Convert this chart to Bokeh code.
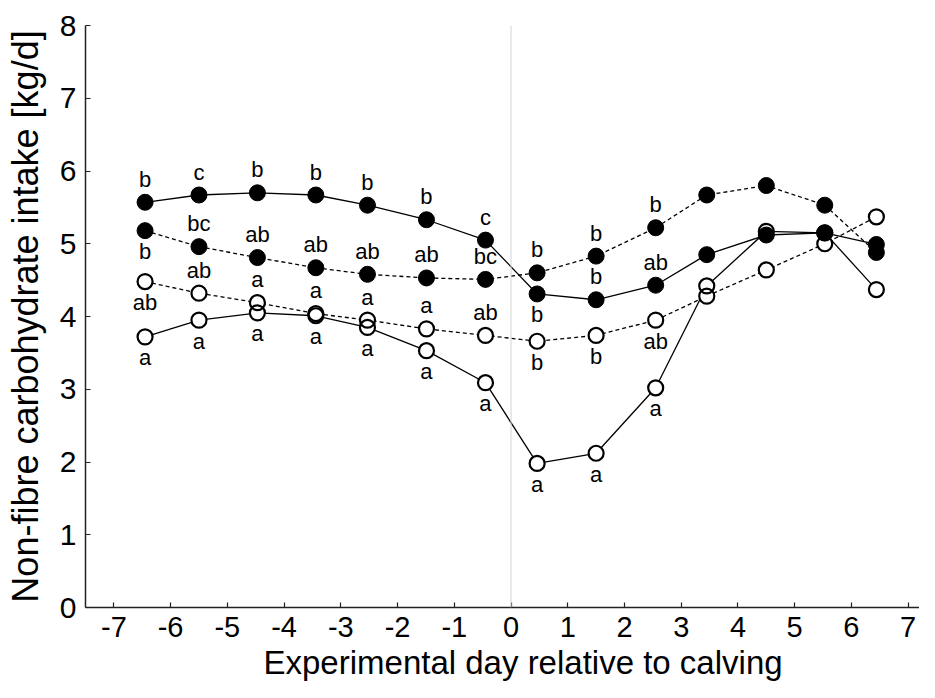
from bokeh.plotting import figure
from bokeh.models import ColumnDataSource, FixedTicker, Span, Range1d, Title
from bokeh.core.properties import value
from bokeh.embed import file_html
from bokeh.resources import INLINE

# ---- data ----
days = [-6.45, -5.5, -4.47, -3.44, -2.53, -1.49, -0.45, 0.46, 1.5, 2.55, 3.45, 4.5, 5.53, 6.44]

filled_solid = [5.57, 5.67, 5.70, 5.67, 5.53, 5.33, 5.05, 4.31, 4.23, 4.43, 4.85, 5.12, 5.15, 4.99]
filled_dashed = [5.18, 4.96, 4.81, 4.67, 4.58, 4.53, 4.51, 4.60, 4.83, 5.22, 5.67, 5.80, 5.53, 4.88]
open_dashed = [4.48, 4.32, 4.19, 4.04, 3.95, 3.83, 3.74, 3.66, 3.74, 3.95, 4.28, 4.64, 5.00, 5.37]
open_solid = [3.72, 3.95, 4.05, 4.01, 3.85, 3.53, 3.09, 1.98, 2.12, 3.02, 4.42, 5.17, 5.15, 4.37]

# significance letters (empty = none) and whether placed above ("u") or below ("d")
letters_fs = ["b", "c", "b", "b", "b", "b", "c", "b", "b", "ab", "", "", "", ""]
place_fs = ["u", "u", "u", "u", "u", "u", "u", "d", "u", "u", "", "", "", ""]
letters_fd = ["b", "bc", "ab", "ab", "ab", "ab", "bc", "b", "b", "b", "", "", "", ""]
place_fd = ["d", "u", "u", "u", "u", "u", "u", "u", "u", "u", "", "", "", ""]
letters_od = ["ab", "ab", "a", "a", "a", "a", "ab", "b", "b", "ab", "", "", "", ""]
place_od = ["d", "u", "u", "u", "u", "u", "u", "d", "d", "d", "", "", "", ""]
letters_os = ["a", "a", "a", "a", "a", "a", "a", "a", "a", "a", "", "", "", ""]
place_os = ["d", "d", "d", "d", "d", "d", "d", "d", "d", "d", "", "", "", ""]

x_ticks = [-7, -6, -5, -4, -3, -2, -1, 0, 1, 2, 3, 4, 5, 6, 7]
x_tick_labels = ["-7", "-6", "-5", "-4", "-3", "-2", "-1", "0", "1", "2", "3", "4", "5", "6", "7"]
y_ticks = [0, 1, 2, 3, 4, 5, 6, 7, 8]
x_title = "Experimental day relative to calving"
y_title = "Non-fibre carbohydrate intake [kg/d]"

FONT = "Liberation Sans"

p = figure(width=919, height=682, output_backend="svg", toolbar_location=None,
           x_range=Range1d(-7.5, 7.2), y_range=Range1d(0, 8),
           min_border_left=85, min_border_right=0, min_border_top=25, min_border_bottom=0)
p.outline_line_color = None
p.xgrid.visible = False
p.ygrid.visible = False
p.background_fill_color = "white"

p.add_layout(Span(location=0, dimension="height", line_color="#d4d4d4", line_width=1))

for ax in (p.xaxis[0], p.yaxis[0]):
    ax.axis_line_color = "#222222"
    ax.axis_line_width = 1.5
    ax.major_tick_line_color = "#222222"
    ax.major_tick_line_width = 1.2
    ax.major_tick_in = 5
    ax.major_tick_out = 0
    ax.minor_tick_line_color = None
    ax.major_label_text_font = FONT
    ax.major_label_text_color = "black"
    ax.axis_label_text_font = FONT
    ax.axis_label_text_font_style = "normal"
    ax.axis_label_text_color = "black"

p.xaxis.ticker = FixedTicker(ticks=x_ticks)
p.xaxis.major_label_overrides = {t: s for t, s in zip(x_ticks, x_tick_labels)}
p.yaxis.ticker = FixedTicker(ticks=y_ticks)
p.yaxis.axis_label = y_title
p.xaxis.major_label_text_font_size = "29px"
p.yaxis.major_label_text_font_size = "30px"
p.yaxis.axis_label_text_font_size = "36px"
p.xaxis.major_label_standoff = 9
p.yaxis.major_label_standoff = 9
p.yaxis.axis_label_standoff = 11

# x-axis title as a title panel below the axis, shifted right like the reference
p.add_layout(Title(text=x_title, align="left", offset=178, standoff=4,
                   text_font=FONT, text_font_size="33px", text_font_style="normal",
                   text_color="black"), "below")

series = [
    (filled_solid, "solid", True, letters_fs, place_fs),
    (filled_dashed, "4 3", True, letters_fd, place_fd),
    (open_dashed, "4 3", False, letters_od, place_od),
    (open_solid, "solid", False, letters_os, place_os),
]

# lines
for vals, dash, filled, _, _ in series:
    p.line(days, vals, line_color="black", line_width=1.3, line_dash=dash)

# open markers: white fill first, then outlines
for vals, dash, filled, _, _ in series:
    if not filled:
        p.scatter(days, vals, size=15, marker="circle", fill_color="white", line_color=None)
for vals, dash, filled, _, _ in series:
    if not filled:
        p.scatter(days, vals, size=15, marker="circle", fill_color=None,
                  line_color="black", line_width=2.2)
# filled markers
for vals, dash, filled, _, _ in series:
    if filled:
        p.scatter(days, vals, size=16, marker="circle", fill_color="black", line_color="black")

# letters
for vals, dash, filled, letters, place in series:
    for side, off in (("u", -23), ("d", 21)):
        xs = [d for d, l, s in zip(days, letters, place) if l and s == side]
        ys = [v for v, l, s in zip(vals, letters, place) if l and s == side]
        ts = [l for l, s in zip(letters, place) if l and s == side]
        if xs:
            src = ColumnDataSource(dict(x=xs, y=ys, t=ts))
            p.text(x="x", y="y", text="t", source=src, text_align="center",
                   text_baseline="middle", y_offset=off, text_color="black",
                   text_font=value(FONT), text_font_size="22px")

open("out.html", "w").write(file_html(p, INLINE))
